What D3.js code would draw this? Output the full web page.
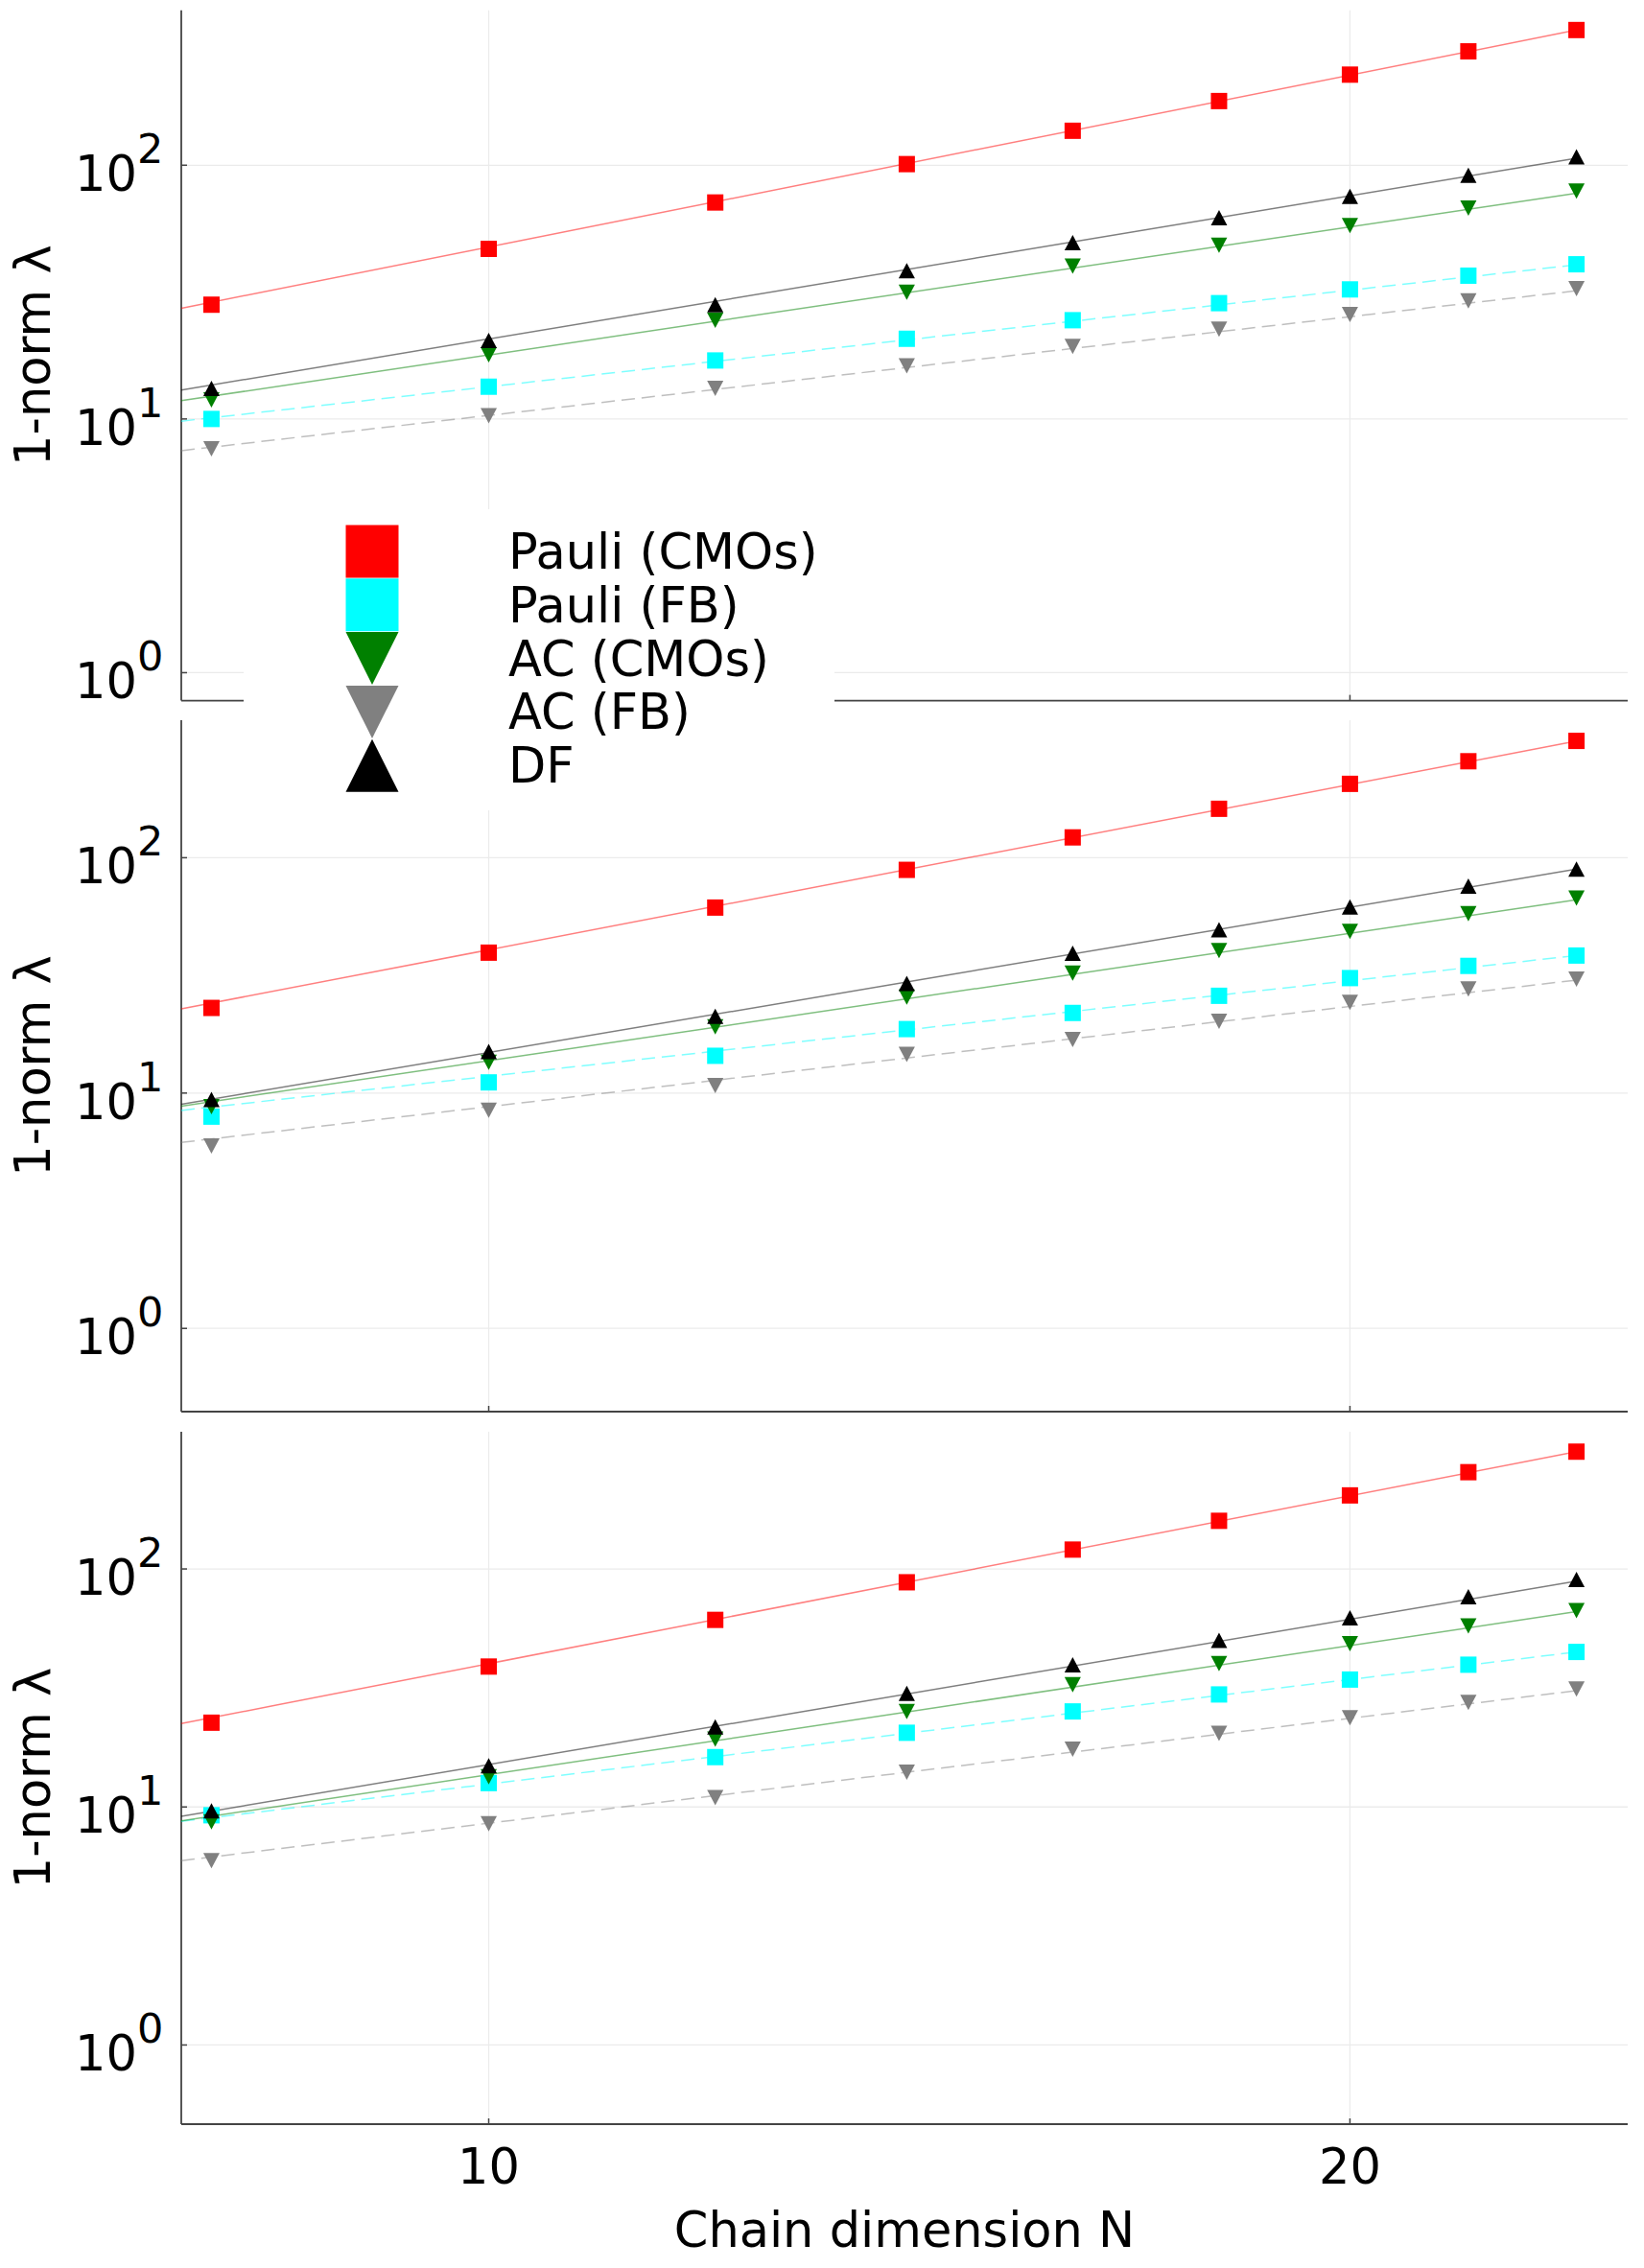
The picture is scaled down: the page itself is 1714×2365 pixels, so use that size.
<!DOCTYPE html>
<html>
<head>
<meta charset="utf-8">
<script src="https://cdn.jsdelivr.net/npm/d3@7"></script>
<style>
  html, body { margin: 0; padding: 0; background: #fff; }
  svg { display: block; font-family: "DejaVu Sans", sans-serif; }
</style>
</head>
<body>
<div id="root"></div>
<script>
// chain lengths (x) and series labels
const chainN = [8, 10, 12, 14, 16, 18, 20, 22, 24];
const seriesNames = ['Pauli (CMOs)', 'Pauli (FB)', 'AC (CMOs)', 'AC (FB)', 'DF'];

// top panel
const topPauliCMO = [28.2, 46.8, 71.3, 101, 136.7, 179, 227.5, 281, 341];
const topPauliFB  = [10.0, 13.4, 17.0, 20.7, 24.5, 28.6, 32.4, 36.7, 40.7];
const topAcCMO    = [11.9, 17.9, 24.5, 31.6, 40.0, 48.4, 57.8, 67.8, 79.0];
const topAcFB     = [7.63, 10.3, 13.2, 16.2, 19.3, 22.6, 25.8, 29.2, 32.6];
const topDF       = [13.2, 20.4, 28.2, 38.4, 49.5, 62.1, 75.4, 91.2, 108];

// middle panel
const midPauliCMO = [23.0, 39.5, 61.4, 88.8, 122, 161.4, 206, 257, 313.6];
const midPauliFB  = [7.94, 11.1, 14.4, 18.7, 21.9, 25.9, 30.8, 34.7, 38.4];
const midAcCMO    = [8.75, 13.5, 19.1, 25.6, 32.3, 40.3, 48.6, 57.8, 67.4];
const midAcFB     = [5.96, 8.45, 10.75, 14.6, 16.9, 20.2, 24.3, 27.7, 30.5];
const midDF       = [9.4, 15.0, 21.2, 29.2, 39.3, 49.4, 61.7, 75.7, 89.5];

// bottom panel
const botPauliCMO = [22.6, 38.9, 61.1, 87.9, 120.6, 159.3, 203.7, 255, 311];
const botPauliFB  = [9.23, 12.6, 16.2, 20.5, 25.2, 29.7, 34.3, 39.6, 44.8];
const botAcCMO    = [8.66, 13.4, 19.3, 25.2, 32.6, 40.0, 48.5, 57.6, 66.9];
const botAcFB     = [5.95, 8.51, 10.95, 14.0, 17.5, 20.4, 23.7, 27.5, 31.3];
const botDF       = [9.63, 14.9, 21.7, 30.0, 39.6, 50.1, 62.4, 76.5, 90.3];

// fitted power-law lines: value at the left edge and at N = 24 (same series order)
const fitN = [7.808, 24];
const topFitStart = [27.3, 9.8, 11.8, 7.5, 13.0];
const topFitEnd   = [341, 40.5, 77.6, 32.0, 106.6];
const midFitStart = [22.8, 8.44, 8.8, 6.17, 8.96];
const midFitEnd   = [313, 38.4, 66.2, 30.2, 89.5];
const botFitStart = [22.4, 8.7, 8.75, 5.95, 9.13];
const botFitEnd   = [311, 44.8, 66.2, 30.8, 88.9];

// axes
const xDomain = [7.808, 25.01];
const xTicks = [10, 20];
const yTicks = [1, 10, 100];
const yDomains = [[0.776, 408], [0.443, 384], [0.465, 377]];

const colors  = ['#ff0000', '#00ffff', '#008000', '#808080', '#000000'];
const shapes  = ['square', 'square', 'down', 'down', 'up'];
const dashed  = [false, true, false, true, false];

const panels = [
  { vals: [topPauliCMO, topPauliFB, topAcCMO, topAcFB, topDF], fs: topFitStart, fe: topFitEnd },
  { vals: [midPauliCMO, midPauliFB, midAcCMO, midAcFB, midDF], fs: midFitStart, fe: midFitEnd },
  { vals: [botPauliCMO, botPauliFB, botAcCMO, botAcFB, botDF], fs: botFitStart, fe: botFitEnd }
];

const W = 1714, H = 2365;
const left = 189, right = 1697;
const boxes = [[10.7, 730.6], [751, 1472], [1493, 2215]];

const svg = d3.select('#root').append('svg').attr('width', W).attr('height', H);

const x = d3.scaleLog().domain(xDomain).range([left, right]);

function marker(shape, w, h) {
  const a = w / 2, b = h / 2;
  if (shape === 'square') return `M${-a},${-b}H${a}V${b}H${-a}Z`;
  if (shape === 'down') return `M${-a},${-b}L${a},${-b}L0,${b}Z`;
  return `M0,${-b}L${a},${b}L${-a},${b}Z`;
}

panels.forEach((p, k) => {
  const [top, bottom] = boxes[k];
  const y = d3.scaleLog().domain(yDomains[k]).range([bottom, top]);
  const g = svg.append('g');

  // grid
  g.selectAll('.gx').data(xTicks).join('line')
    .attr('x1', d => x(d)).attr('x2', d => x(d))
    .attr('y1', top).attr('y2', bottom)
    .attr('stroke', '#ebebeb').attr('stroke-width', 1.3);
  g.selectAll('.gy').data(yTicks).join('line')
    .attr('x1', left).attr('x2', right)
    .attr('y1', d => y(d)).attr('y2', d => y(d))
    .attr('stroke', '#ebebeb').attr('stroke-width', 1.3);

  // spines + ticks
  g.append('line').attr('x1', left).attr('x2', left).attr('y1', top).attr('y2', bottom)
    .attr('stroke', '#444').attr('stroke-width', 1.8);
  g.append('line').attr('x1', left).attr('x2', right).attr('y1', bottom).attr('y2', bottom)
    .attr('stroke', '#444').attr('stroke-width', 1.8);
  g.selectAll('.ty').data(yTicks).join('line')
    .attr('x1', left).attr('x2', left + 6)
    .attr('y1', d => y(d)).attr('y2', d => y(d))
    .attr('stroke', '#444').attr('stroke-width', 1.5);
  g.selectAll('.tx').data(xTicks).join('line')
    .attr('x1', d => x(d)).attr('x2', d => x(d))
    .attr('y1', bottom).attr('y2', bottom - 6)
    .attr('stroke', '#444').attr('stroke-width', 1.5);

  // y tick labels 10^k : base and exponent as two texts side by side
  yTicks.forEach(t => {
    const e = Math.round(Math.log10(t));
    g.append('text')
      .attr('x', 143).attr('y', y(t) + 27)
      .attr('text-anchor', 'end').attr('font-size', 51).attr('fill', '#000')
      .text('10');
    g.append('text')
      .attr('x', 143).attr('y', y(t) - 2)
      .attr('text-anchor', 'start').attr('font-size', 43).attr('fill', '#000')
      .text(String(e));
  });

  // y label
  g.append('text')
    .attr('transform', `translate(52,${(top + bottom) / 2}) rotate(-90)`)
    .attr('text-anchor', 'middle').attr('font-size', 51).attr('fill', '#000')
    .text('1-norm λ');

  // fit lines
  const line = d3.line().x(d => x(d[0])).y(d => y(d[1]));
  seriesNames.forEach((name, i) => {
    g.append('path')
      .attr('d', line([[fitN[0], p.fs[i]], [fitN[1], p.fe[i]]]))
      .attr('fill', 'none')
      .attr('stroke', colors[i]).attr('stroke-opacity', 0.5)
      .attr('stroke-width', 1.5)
      .attr('stroke-dasharray', dashed[i] ? '14,7' : null);
  });

  // markers
  seriesNames.forEach((name, i) => {
    const w = 17, h = shapes[i] === 'square' ? 17 : 16;
    g.selectAll(null).data(chainN.map((n, j) => [n, p.vals[i][j]])).join('path')
      .attr('transform', d => `translate(${x(d[0])},${y(d[1])})`)
      .attr('d', marker(shapes[i], w, h))
      .attr('fill', colors[i]);
  });

  // x tick labels only on the last panel
  if (k === panels.length - 1) {
    g.selectAll('.xl').data(xTicks).join('text')
      .attr('x', d => x(d)).attr('y', 2277)
      .attr('text-anchor', 'middle').attr('font-size', 51).attr('fill', '#000')
      .text(d => d);
    g.append('text')
      .attr('x', (left + right) / 2).attr('y', 2343)
      .attr('text-anchor', 'middle').attr('font-size', 51).attr('fill', '#000')
      .text('Chain dimension N');
  }
});

// legend (drawn last, overlaps the first two panels)
const lg = svg.append('g');
lg.append('rect').attr('x', 254).attr('y', 531).attr('width', 616).attr('height', 314).attr('fill', '#fff');
seriesNames.forEach((name, i) => {
  const cy = 575 + i * 55.8;
  lg.append('path')
    .attr('transform', `translate(388,${cy})`)
    .attr('d', marker(shapes[i], 55, 55))
    .attr('fill', colors[i]);
  lg.append('text')
    .attr('x', 530).attr('y', cy + 18)
    .attr('font-size', 51).attr('fill', '#000')
    .text(name);
});
</script>
</body>
</html>
